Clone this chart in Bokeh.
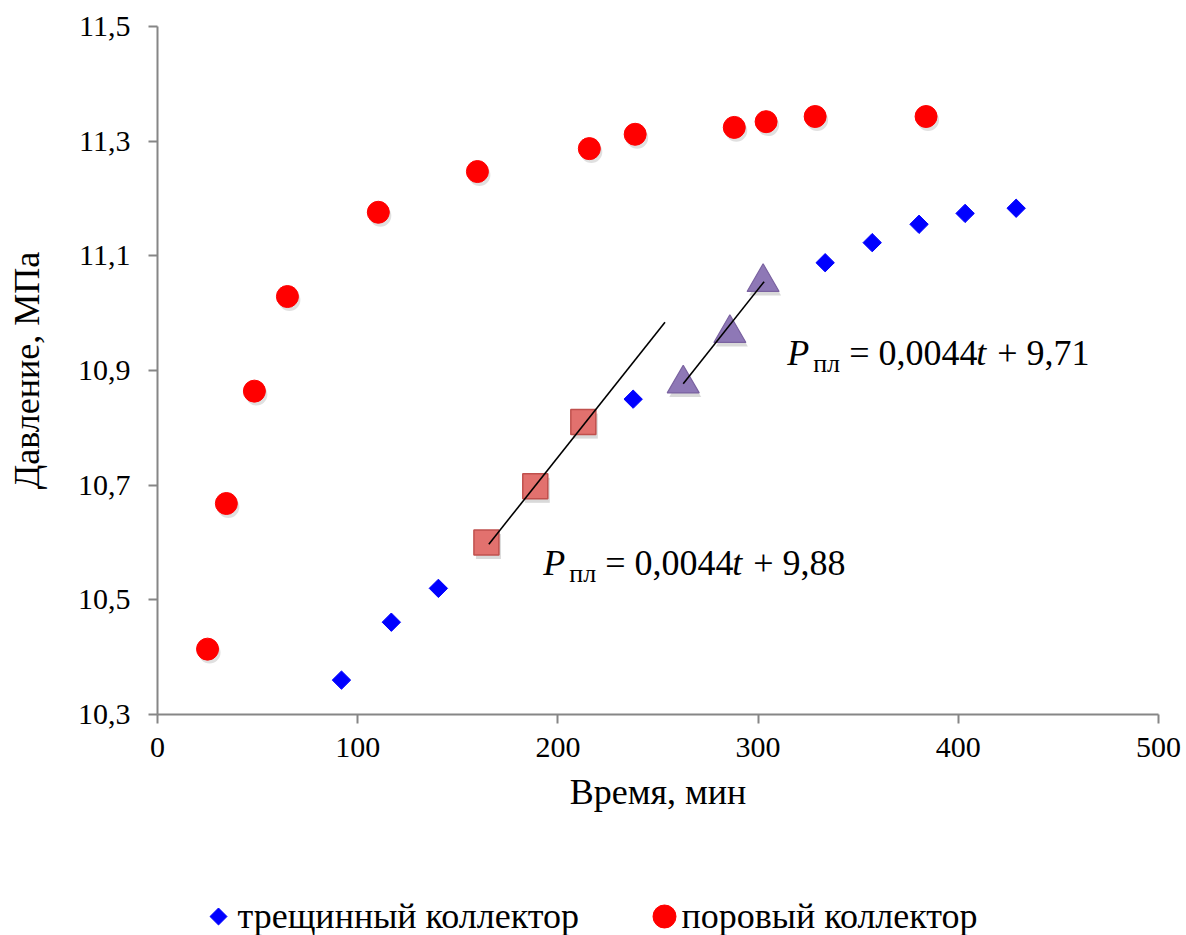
from bokeh.plotting import figure
from bokeh.layouts import column
from bokeh.models import (ColumnDataSource, FixedTicker, CustomJSTickFormatter, Range1d, Label)
from bokeh.transform import dodge
from bokeh.embed import file_html
from bokeh.resources import INLINE

# --- data ---
frac_t = [91.9, 116.8, 140.3, 164.3, 188.7, 212.7, 237.6, 262.6, 285.9, 302.5,
          333.5, 357.0, 380.4, 403.4, 428.9]
frac_p = [10.360, 10.461, 10.520, 10.600, 10.698, 10.810, 10.850, 10.877, 10.965, 11.054,
          11.088, 11.123, 11.155, 11.174, 11.183]

pore_t = [25.0, 34.4, 48.4, 64.9, 110.3, 159.8, 215.7, 238.6, 288.1, 304.0, 328.5, 383.9]
pore_p = [10.414, 10.668, 10.864, 11.029, 11.176, 11.247, 11.287, 11.312, 11.324, 11.334,
          11.343, 11.343]

sq_t = [164.3, 188.7, 212.7]
sq_p = [10.600, 10.698, 10.810]

tri_t = [262.6, 285.9, 302.5]
tri_p = [10.877, 10.965, 11.054]

trend1_t = [165.5, 253.5]
trend1_p = [10.597, 10.984]
trend2_t = [262.6, 303.0]
trend2_p = [10.877, 11.055]

eq1_pos = (192.7, 10.564)
eq1_tail = "+ 9,88"
eq2_pos = (314.5, 10.930)
eq2_tail = "+ 9,71"

legend_labels = ["трещинный коллектор", "поровый коллектор"]

x_ticks = [0, 100, 200, 300, 400, 500]
y_ticks = [10.3, 10.5, 10.7, 10.9, 11.1, 11.3, 11.5]

FONT = "Liberation Serif"
AXIS_GREY = "#868686"

p = figure(width=1186, height=860, output_backend="svg", toolbar_location=None,
           x_range=Range1d(0, 500), y_range=Range1d(10.3, 11.5),
           min_border_left=157, min_border_right=28, min_border_top=26, min_border_bottom=146)
p.outline_line_color = None
p.xgrid.visible = False
p.ygrid.visible = False
p.background_fill_color = "white"
p.border_fill_color = "white"

src_frac = ColumnDataSource(dict(x=frac_t, y=frac_p))
src_pore = ColumnDataSource(dict(x=pore_t, y=pore_p))
src_sq = ColumnDataSource(dict(x=sq_t, y=sq_p))
src_tri = ColumnDataSource(dict(x=tri_t, y=tri_p))

BLUE_STYLE = dict(marker="square", angle=0.785398, size=13, fill_color="#0000FF", line_color="#0000FF")
RED_STYLE = dict(marker="circle", size=22, fill_color="#FF0000", line_color="#FF0000")

# soft shadows
p.scatter(x=dodge("x", 1.0), y=dodge("y", -0.006), source=src_pore, marker="circle", size=22,
          fill_color="#000000", fill_alpha=0.12, line_color=None)

p.scatter(x="x", y="y", source=src_frac, **BLUE_STYLE)
p.scatter(x="x", y="y", source=src_pore, **RED_STYLE)

p.scatter(x=dodge("x", 1.0), y=dodge("y", -0.007), source=src_sq, marker="square", size=25,
          fill_color="#000000", fill_alpha=0.15, line_color=None)
p.scatter(x="x", y="y", source=src_sq, marker="square", size=25,
          fill_color="#E2716E", line_color="#C0504D", line_width=1.5)

p.scatter(x=dodge("x", 1.0), y=dodge("y", -0.007), source=src_tri, marker="triangle", size=32,
          fill_color="#000000", fill_alpha=0.15, line_color=None)
p.scatter(x="x", y="y", source=src_tri, marker="triangle", size=32,
          fill_color="#8E78B6", line_color="#7A62A0", line_width=1.2)

p.line(trend1_t, trend1_p, line_color="black", line_width=1.6)
p.line(trend2_t, trend2_p, line_color="black", line_width=1.6)

# axes
for ax in (p.xaxis[0], p.yaxis[0]):
    ax.axis_line_color = AXIS_GREY
    ax.axis_line_width = 2
    ax.major_tick_line_color = AXIS_GREY
    ax.major_tick_line_width = 2
    ax.major_tick_out = 9
    ax.major_tick_in = 0
    ax.minor_tick_line_color = None
    ax.major_label_text_font = FONT
    ax.major_label_text_font_size = "30px"
    ax.major_label_text_color = "black"
    ax.axis_label_text_font = FONT
    ax.axis_label_text_font_size = "36px"
    ax.axis_label_text_font_style = "normal"
    ax.axis_label_text_color = "black"

p.xaxis.ticker = FixedTicker(ticks=x_ticks)
p.yaxis.ticker = FixedTicker(ticks=y_ticks)
p.yaxis.formatter = CustomJSTickFormatter(code="return tick.toFixed(1).replace('.', ',');")
p.xaxis.axis_label = "Время, мин"
p.yaxis.axis_label = "Давление, МПа"
p.xaxis.major_label_standoff = 14
p.yaxis.major_label_standoff = 18
p.xaxis.axis_label_standoff = 12
p.yaxis.axis_label_standoff = 28

# equations
def add_eq(pos, tail):
    x, y = pos
    common = dict(x=x, y=y, text_font=FONT, text_color="black", text_baseline="alphabetic")
    p.add_layout(Label(text="P", x_offset=0, text_font_size="36px", text_font_style="italic", **common))
    p.add_layout(Label(text="пл", x_offset=26, y_offset=-10, text_font_size="26px", **common))
    p.add_layout(Label(text="= 0,0044", x_offset=62, text_font_size="36px", **common))
    p.add_layout(Label(text="t", x_offset=189, text_font_size="36px", text_font_style="italic", **common))
    p.add_layout(Label(text=tail, x_offset=210, text_font_size="36px", **common))

add_eq(eq1_pos, eq1_tail)
add_eq(eq2_pos, eq2_tail)

# legend strip below the chart; its frame is aligned with the chart's frame,
# and its ranges are in page pixels (x) / pixels from the strip's bottom (y)
lg = figure(width=1186, height=75, output_backend="svg", toolbar_location=None,
            x_range=Range1d(157, 1158), y_range=Range1d(0, 75),
            x_axis_type=None, y_axis_type=None,
            min_border_left=0, min_border_right=0, min_border_top=0, min_border_bottom=0)
lg.outline_line_color = None
lg.xgrid.visible = False
lg.ygrid.visible = False

swatch_x = [218, 664]
swatch_y = [19, 19]
label_x = [237, 681]
label_y = [20, 20]
lg.scatter(x=[swatch_x[0]], y=[swatch_y[0]], marker="square", angle=0.785398, size=12,
           fill_color="#0000FF", line_color="#0000FF")
lg.scatter(x=[swatch_x[1]], y=[swatch_y[1]], marker="circle", size=23,
           fill_color="#FF0000", line_color="#FF0000")
for lx, ly, lt in zip(label_x, label_y, legend_labels):
    lg.add_layout(Label(x=lx, y=ly, text=lt, text_font=FONT, text_font_size="36px",
                        text_color="black", text_align="left", text_baseline="middle"))

open("out.html", "w").write(file_html(column(p, lg, spacing=0), INLINE))
